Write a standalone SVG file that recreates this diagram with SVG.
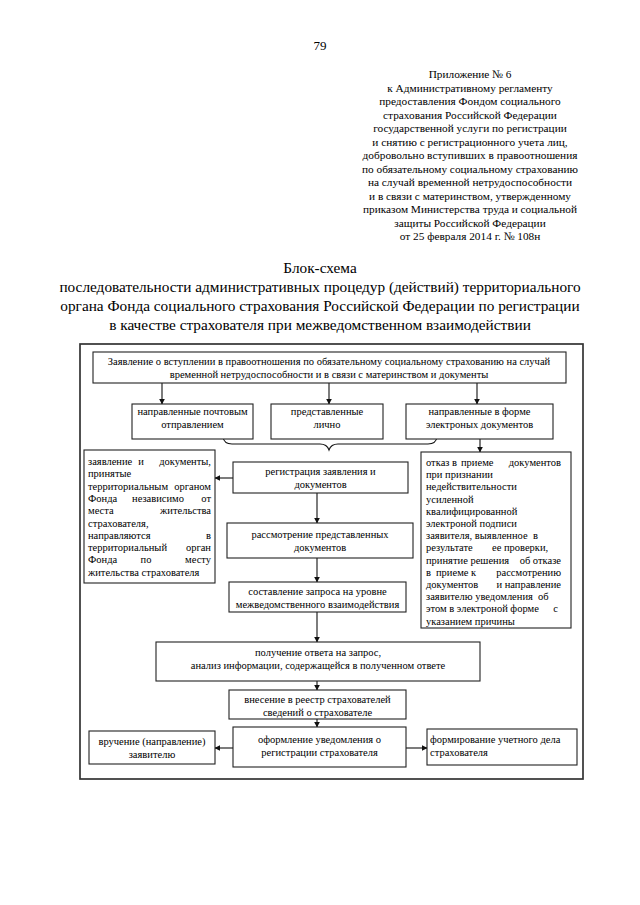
<svg xmlns="http://www.w3.org/2000/svg" width="640" height="905" viewBox="0 0 640 905">
<style>
text{font-family:"Liberation Serif","Times New Roman",serif;fill:#000}
.h{font-size:11.3px;text-anchor:middle}
.t{font-size:15.3px;text-anchor:middle}
.d{font-size:10.5px}
.c{text-anchor:middle}
.box{fill:#fff;stroke:#222;stroke-width:1.1}
.frame{fill:none;stroke:#333;stroke-width:1.7}
.ln{fill:none;stroke:#111;stroke-width:1.1}
</style>
<defs>
<marker id="ah" viewBox="0 0 10 10" refX="9" refY="5" markerWidth="6" markerHeight="6" orient="auto" markerUnits="userSpaceOnUse">
<path d="M0,0 L10,5 L0,10 z" fill="#111"/>
</marker>
</defs>
<rect width="640" height="905" fill="#fff"/>
<text x="320" y="50" class="h" style="font-size:13px">79</text>
<g id="header">
<text class="h" x="470" y="78">Приложение № 6</text>
<text class="h" x="470" y="91.5">к Административному регламенту</text>
<text class="h" x="470" y="105">предоставления Фондом социального</text>
<text class="h" x="470" y="118.5">страхования Российской Федерации</text>
<text class="h" x="470" y="132">государственной услуги по регистрации</text>
<text class="h" x="470" y="145.5">и снятию с регистрационного учета лиц,</text>
<text class="h" x="470" y="159">добровольно вступивших в правоотношения</text>
<text class="h" x="470" y="172.5">по обязательному социальному страхованию</text>
<text class="h" x="470" y="186">на случай временной нетрудоспособности</text>
<text class="h" x="470" y="199.5">и в связи с материнством, утвержденному</text>
<text class="h" x="470" y="213">приказом Министерства труда и социальной</text>
<text class="h" x="470" y="226.5">защиты Российской Федерации</text>
<text class="h" x="470" y="240">от 25 февраля 2014 г. № 108н</text>
</g>
<g id="title">
<text class="t" x="320" y="273">Блок-схема</text>
<text class="t" x="320" y="292">последовательности административных процедур (действий)  территориального</text>
<text class="t" x="320" y="311">органа Фонда социального страхования Российской Федерации  по регистрации</text>
<text class="t" x="320" y="330">в качестве страхователя при межведомственном взаимодействии</text>
</g>
<rect id="frame" class="frame" x="80" y="344" width="503" height="435"/>
<g id="connectors">
<line class="ln" x1="162" y1="383" x2="162" y2="404" marker-end="url(#ah)"/>
<line class="ln" x1="329" y1="383" x2="329" y2="404" marker-end="url(#ah)"/>
<line class="ln" x1="477" y1="383" x2="477" y2="404" marker-end="url(#ah)"/>
<path class="ln" d="M223,437 Q224,444 232,444 L320,444 Q327,444 329,450 Q331,444 338,444 L428,444 Q436,444 437,437"/>
<line class="ln" x1="480" y1="439" x2="480" y2="452" marker-end="url(#ah)"/>
<line class="ln" x1="233" y1="478" x2="215" y2="478" marker-end="url(#ah)"/>
<line class="ln" x1="317" y1="493" x2="317" y2="523" marker-end="url(#ah)"/>
<line class="ln" x1="317" y1="558" x2="317" y2="582" marker-end="url(#ah)"/>
<line class="ln" x1="317" y1="612" x2="317" y2="642" marker-end="url(#ah)"/>
<line class="ln" x1="317" y1="681" x2="317" y2="690" marker-end="url(#ah)"/>
<line class="ln" x1="317" y1="719" x2="317" y2="727" marker-end="url(#ah)"/>
<line class="ln" x1="233" y1="748" x2="215" y2="748" marker-end="url(#ah)"/>
<line class="ln" x1="406" y1="748" x2="427" y2="748" marker-end="url(#ah)"/>
</g>
<g id="n_application">
<rect class="box" x="93" y="352" width="473" height="31"/>
<text class="d c" x="329" y="365">Заявление о вступлении в правоотношения по обязательному социальному страхованию на случай</text>
<text class="d c" x="329" y="378">временной нетрудоспособности и в связи с материнством и документы</text>
</g>
<g id="n_post">
<rect class="box" x="132" y="404" width="121" height="35"/>
<text class="d c" x="192.5" y="415">направленные почтовым</text>
<text class="d c" x="192.5" y="428">отправлением</text>
</g>
<g id="n_personal">
<rect class="box" x="271" y="404" width="112" height="35"/>
<text class="d c" x="327" y="415">представленные</text>
<text class="d c" x="327" y="428">лично</text>
</g>
<g id="n_electronic">
<rect class="box" x="406" y="404" width="147" height="35"/>
<text class="d c" x="479.5" y="415">направленные в форме</text>
<text class="d c" x="479.5" y="428">электроных документов</text>
</g>
<g id="n_forward">
<rect class="box" x="84" y="450" width="131" height="133"/>
<text class="d" y="465"><tspan x="88">заявление</tspan><tspan x="141" text-anchor="middle">и</tspan><tspan x="211" text-anchor="end">документы,</tspan></text>
<text class="d" x="88" y="477.3">принятые</text>
<text class="d" y="489.6"><tspan x="88">территориальным</tspan><tspan x="211" text-anchor="end">органом</tspan></text>
<text class="d" y="501.9"><tspan x="88">Фонда</tspan><tspan x="158" text-anchor="middle">независимо</tspan><tspan x="211" text-anchor="end">от</tspan></text>
<text class="d" y="514.2"><tspan x="88">места</tspan><tspan x="211" text-anchor="end">жительства</tspan></text>
<text class="d" x="88" y="526.5">страхователя,</text>
<text class="d" y="538.8"><tspan x="88">направляются</tspan><tspan x="211" text-anchor="end">в</tspan></text>
<text class="d" y="551.1"><tspan x="88">территориальный</tspan><tspan x="211" text-anchor="end">орган</tspan></text>
<text class="d" y="563.4"><tspan x="88">Фонда</tspan><tspan x="146" text-anchor="middle">по</tspan><tspan x="211" text-anchor="end">месту</tspan></text>
<text class="d" x="88" y="575.7">жительства страхователя</text>
</g>
<g id="n_register">
<rect class="box" x="233" y="462" width="175" height="31"/>
<text class="d c" x="320.5" y="475">регистрация заявления и</text>
<text class="d c" x="320.5" y="488">документов</text>
</g>
<g id="n_review">
<rect class="box" x="227" y="523" width="186" height="35"/>
<text class="d c" x="320" y="538">рассмотрение представленных</text>
<text class="d c" x="320" y="551">документов</text>
</g>
<g id="n_query">
<rect class="box" x="229" y="582" width="177" height="30"/>
<text class="d c" x="317.5" y="595">составление запроса на уровне</text>
<text class="d c" x="317.5" y="608">межведомственного взаимодействия</text>
</g>
<g id="n_refusal">
<rect class="box" x="421" y="452" width="150" height="176"/>
<text class="d" y="466"><tspan x="426">отказ</tspan><tspan x="452">в</tspan><tspan x="461">приеме</tspan><tspan x="561" text-anchor="end">документов</tspan></text>
<text class="d" x="426" y="478.2">при признании</text>
<text class="d" x="426" y="490.4">недействительности</text>
<text class="d" x="426" y="502.6">усиленной</text>
<text class="d" x="426" y="514.8">квалифицированной</text>
<text class="d" x="426" y="527">электроной подписи</text>
<text class="d" y="539.2"><tspan x="426">заявителя, выявленное</tspan><tspan x="533">в</tspan></text>
<text class="d" y="551.4"><tspan x="426">результате</tspan><tspan x="492">ее проверки,</tspan></text>
<text class="d" y="563.6"><tspan x="426">принятие решения</tspan><tspan x="561" text-anchor="end">об отказе</tspan></text>
<text class="d" y="575.8"><tspan x="426">в</tspan><tspan x="436">приеме к</tspan><tspan x="561" text-anchor="end">рассмотрению</tspan></text>
<text class="d" y="588"><tspan x="426">документов</tspan><tspan x="561" text-anchor="end">и направление</tspan></text>
<text class="d" y="600.2"><tspan x="426">заявителю уведомления</tspan><tspan x="538">об</tspan></text>
<text class="d" y="612.4"><tspan x="426">этом в электроной форме</tspan><tspan x="558" text-anchor="end">с</tspan></text>
<text class="d" x="426" y="624.6">указанием причины</text>
</g>
<g id="n_response">
<rect class="box" x="156" y="642" width="324" height="39"/>
<text class="d c" x="318" y="656">получение ответа на запрос,</text>
<text class="d c" x="318" y="669">анализ информации, содержащейся в полученном ответе</text>
</g>
<g id="n_registry">
<rect class="box" x="229" y="690" width="177" height="29"/>
<text class="d c" x="317.5" y="703">внесение в реестр страхователей</text>
<text class="d c" x="317.5" y="716">сведений о страхователе</text>
</g>
<g id="n_notice">
<rect class="box" x="233" y="727" width="173" height="40"/>
<text class="d c" x="319.5" y="743">оформление уведомления о</text>
<text class="d c" x="319.5" y="756">регистрации страхователя</text>
</g>
<g id="n_delivery">
<rect class="box" x="89" y="731" width="126" height="33"/>
<text class="d c" x="152" y="745">вручение (направление)</text>
<text class="d c" x="152" y="758">заявителю</text>
</g>
<g id="n_file">
<rect class="box" x="427" y="729" width="150" height="36"/>
<text class="d" x="430" y="743">формирование учетного дела</text>
<text class="d" x="430" y="756">страхователя</text>
</g>
</svg>
